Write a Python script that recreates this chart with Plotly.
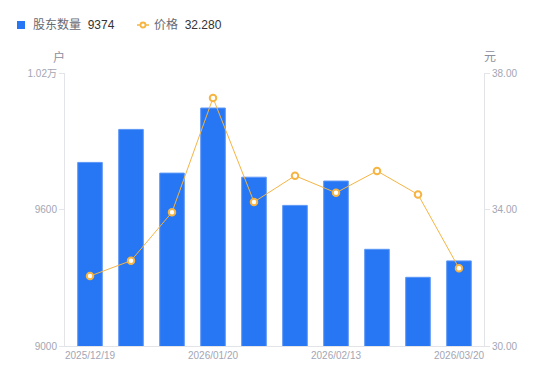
import plotly.graph_objects as go

dates = ["2025/12/19", "2025/12/31", "2026/01/09", "2026/01/20", "2026/01/30",
         "2026/02/06", "2026/02/13", "2026/02/28", "2026/03/10", "2026/03/20"]
holders = [9807, 9952, 9760, 10046, 9742, 9618, 9725, 9425, 9302, 9374]
price = [32.05, 32.50, 33.92, 37.27, 34.22, 34.99, 34.49, 35.13, 34.44, 32.28]
x_ticks = ["2025/12/19", "2026/01/20", "2026/02/13", "2026/03/20"]
left_ticks = [9000, 9600, 10200]
left_text = ["9000", "9600", "1.02万"]
right_ticks = [30, 34, 38]
right_text = ["30.00", "34.00", "38.00"]

FONT = "Liberation Sans, Arial, Noto Sans CJK SC, sans-serif"
TICK_COLOR = "#a3a6b4"
AXIS_COLOR = "#e3e4e8"
BLUE = "#2777f4"
ORANGE = "#f6b443"

L, R, T, B = 65, 66, 73, 35
W, H = 550, 381
PW, PH = W - L - R, H - T - B


def px(x):
    return (x - L) / PW


def py(y):
    return (H - B - y) / PH


fig = go.Figure()
fig.add_trace(go.Bar(
    x=dates, y=holders, yaxis="y", name="股东数量",
    marker=dict(color=BLUE, line=dict(color="#5d97f6", width=1)),
    width=0.6,
))
fig.add_trace(go.Scatter(
    x=dates, y=price, yaxis="y2", mode="lines+markers", name="价格",
    line=dict(color=ORANGE, width=1),
    marker=dict(symbol="circle", size=6.5, color="white", line=dict(color=ORANGE, width=2)),
))

legend_y = py(25)
annotations = [
    dict(text="<span style='color:#666a75'>股东数量</span>&nbsp;&nbsp;<span style='color:#333'>%s</span>" % holders[-1],
         xref="paper", yref="paper", x=px(31), y=legend_y, xanchor="left", yanchor="middle",
         showarrow=False, font=dict(size=12, family=FONT)),
    dict(text="<span style='color:#666a75'>价格</span>&nbsp;&nbsp;<span style='color:#333'>%.3f</span>" % price[-1],
         xref="paper", yref="paper", x=px(152), y=legend_y, xanchor="left", yanchor="middle",
         showarrow=False, font=dict(size=12, family=FONT)),
    dict(text="户", xref="paper", yref="paper", x=px(58.5), y=py(57),
         showarrow=False, font=dict(size=12, color="#8c8f9c", family=FONT), xanchor="center", yanchor="middle"),
    dict(text="元", xref="paper", yref="paper", x=px(490), y=py(57),
         showarrow=False, font=dict(size=12, color="#8c8f9c", family=FONT), xanchor="center", yanchor="middle"),
]
shapes = [
    dict(type="rect", xref="paper", yref="paper", x0=px(17), x1=px(25), y0=py(29), y1=py(21),
         fillcolor=BLUE, line=dict(width=0)),
    dict(type="line", xref="paper", yref="paper", x0=px(137), x1=px(149), y0=legend_y, y1=legend_y,
         line=dict(color=ORANGE, width=1.5)),
    dict(type="circle", xref="paper", yref="paper", x0=px(140.5), x1=px(145.5), y0=py(27.5), y1=py(22.5),
         fillcolor="white", line=dict(color=ORANGE, width=1.8)),
]

fig.update_layout(
    width=W, height=H,
    margin=dict(l=L, r=R, t=T, b=B, autoexpand=False),
    paper_bgcolor="white", plot_bgcolor="white",
    font=dict(family=FONT, size=10, color=TICK_COLOR),
    showlegend=False,
    bargap=0.4,
    xaxis=dict(type="category", tickmode="array", tickvals=x_ticks, ticktext=x_ticks,
               showgrid=False, showline=True, linecolor=AXIS_COLOR, linewidth=1,
               ticks="", tickfont=dict(size=10, color=TICK_COLOR), zeroline=False, automargin=False),
    yaxis=dict(range=[9000, 10200], tickmode="array", tickvals=left_ticks, ticktext=left_text,
               showgrid=False, showline=True, linecolor=AXIS_COLOR, linewidth=1,
               ticks="outside", ticklen=5, tickcolor=AXIS_COLOR,
               tickfont=dict(size=10, color=TICK_COLOR), zeroline=False, automargin=False),
    yaxis2=dict(range=[30, 38], overlaying="y", side="right", tickmode="array",
                tickvals=right_ticks, ticktext=right_text,
                showgrid=False, showline=True, linecolor=AXIS_COLOR, linewidth=1,
                ticks="outside", ticklen=5, tickcolor=AXIS_COLOR,
                tickfont=dict(size=10, color=TICK_COLOR), zeroline=False, automargin=False),
    annotations=annotations,
    shapes=shapes,
)

fig.write_html("out.html",
               config={"displayModeBar": False},
               post_script="document.body.style.margin='0';document.body.style.padding='0';")
